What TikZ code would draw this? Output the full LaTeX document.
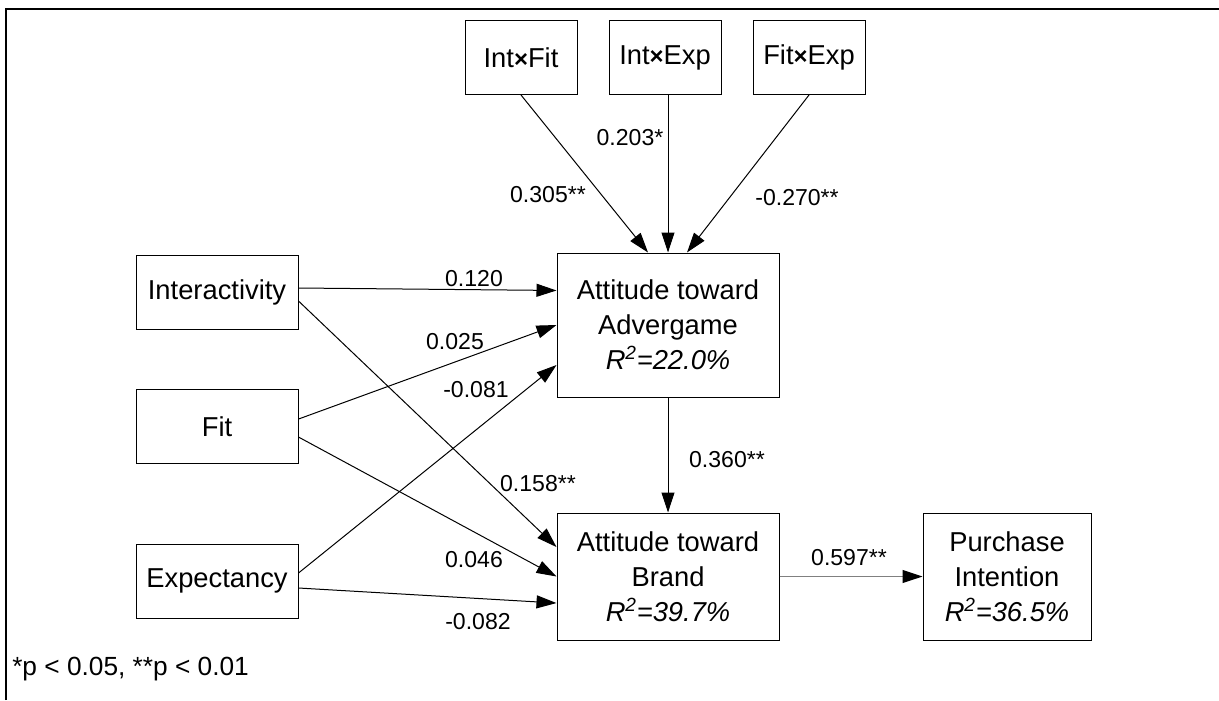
\documentclass[tikz,border=0pt]{standalone}
\usepackage{fontspec}
\setmainfont{Liberation Sans}
\usetikzlibrary{arrows.meta}
\tikzset{
  varbox/.style={draw,rectangle,inner sep=0pt,line width=0.75pt,align=center,
    font=\fontsize{20.5}{26.25}\selectfont},
  coef/.style={inner sep=0pt,font=\fontsize{17.3}{20}\selectfont},
  effect/.style={-{Triangle[length=15pt,width=9.75pt]},line width=0.75pt}
}
\newcommand{\rsq}[1]{\textit{R\textsuperscript{2}=#1}}
\newcommand{\bytimes}{{\fontsize{18}{18}\selectfont\bfseries ×}}

\begin{document}
\begin{tikzpicture}[x=0.75pt,y=-0.75pt]
  \useasboundingbox (0,0) rectangle (1219,700);
  \draw[line width=2pt] (6,700) -- (6,9) -- (1219,9);

  % predictors
  \node[varbox,minimum width=121.5pt,minimum height=55.5pt] (inter) at (217,292) {Interactivity};
  \node[varbox,minimum width=121.5pt,minimum height=55.5pt] (fit) at (217,426.5) {Fit};
  \node[varbox,minimum width=121.5pt,minimum height=55.5pt] (expect) at (217,581) {Expectancy};
  \node[varbox,minimum width=84pt,minimum height=55.5pt] (ixf) at (521,57.5) {Int\bytimes Fit};
  \node[varbox,minimum width=84pt,minimum height=55.5pt] (ixe) at (665,57.5) {Int\bytimes Exp};
  \node[varbox,minimum width=84pt,minimum height=55.5pt] (fxe) at (809,57.5) {Fit\bytimes Exp};

  % outcomes
  \node[varbox,minimum width=166.5pt,minimum height=108pt] (advg) at (668,325)
    {Attitude toward\\Advergame\\\rsq{22.0\%}};
  \node[varbox,minimum width=166.5pt,minimum height=95.25pt] (brand) at (668,576.5)
    {Attitude toward\\Brand\\\rsq{39.7\%}};
  \node[varbox,minimum width=126pt,minimum height=95.25pt] (purch) at (1007,576.5)
    {Purchase\\Intention\\\rsq{36.5\%}};

  % paths
  \draw[effect] ([yshift=3pt]inter.east) -- ([yshift=25.9pt]advg.west);
  \draw[effect] ([yshift=-6.75pt]inter.east) -- ([yshift=22.1pt]brand.west);
  \draw[effect] ([yshift=5.6pt]fit.east) -- (advg.west);
  \draw[effect] ([yshift=-7.9pt]fit.east) -- (brand.west);
  \draw[effect] ([yshift=6pt]expect.east) -- ([yshift=-30pt]advg.west);
  \draw[effect] ([yshift=-5.25pt]expect.east) -- ([yshift=-19.9pt]brand.west);
  \draw[effect] (ixf.south) -- ([xshift=-15pt]advg.north);
  \draw[effect] ([xshift=2.25pt]ixe.south) -- (advg.north);
  \draw[effect] (fxe.south) -- ([xshift=14.25pt]advg.north);
  \draw[effect] (advg.south) -- (brand.north);
  \draw[effect,gray,-{Triangle[length=15pt,width=9.75pt,color=black]}] (brand.east) -- (purch.west);

  % coefficients
  \node[coef] (c1) at (548,195) {0.305**};
  \node[coef] (c2) at (630,138) {0.203*};
  \node[coef] (c3) at (797,198) {-0.270**};
  \node[coef] (c4) at (474,279) {0.120};
  \node[coef] (c5) at (455,342) {0.025};
  \node[coef] (c6) at (476,390) {-0.081};
  \node[coef] (c7) at (538,484) {0.158**};
  \node[coef] (c8) at (474,560) {0.046};
  \node[coef] (c9) at (478,622) {-0.082};
  \node[coef] (c10) at (727,460) {0.360**};
  \node[coef] (c11) at (849,558) {0.597**};

  \node[inner sep=0pt,anchor=west,font=\fontsize{19.7}{22}\selectfont] (note) at (12,669)
    {*p < 0.05, **p < 0.01};
\end{tikzpicture}
\end{document}
